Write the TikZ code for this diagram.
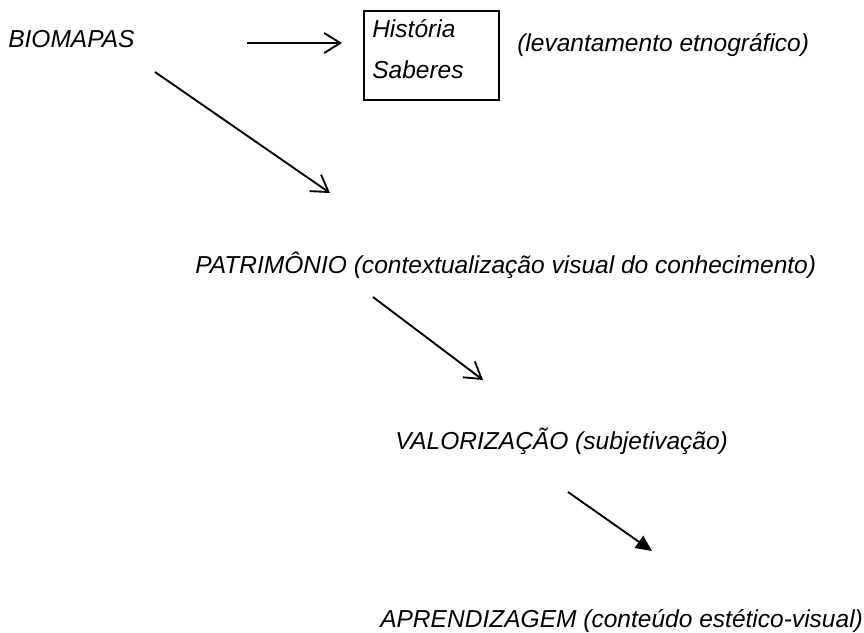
\documentclass[tikz,border=0pt]{standalone}
\usepackage{fontspec}
\setmainfont{Liberation Sans}
\usetikzlibrary{arrows.meta}
\begin{document}
\begin{tikzpicture}[x=0.75pt, y=-0.75pt,
  stage/.style={font=\itshape\fontsize{18.4}{22}\selectfont, inner sep=0pt, anchor=base west},
  flow/.style={line width=1.4pt, -{Straight Barb[length=12pt, width=15pt]}},
  flowend/.style={line width=1.4pt, -{Triangle[length=12pt, width=11pt]}}]
% one unit = one pixel of the reference
\def\pxu{0.75pt}
\useasboundingbox (0,0) rectangle (864,632);
% Stages
\node[stage] (bio) at (8,47) {BIOMAPAS};
\node[draw, line width=1.5pt, anchor=north west, inner sep=0pt,
  minimum width=135*\pxu, minimum height=89*\pxu] (hist) at (363,10) {};
\node[stage] (histA) at (372,37) {História};
\node[stage] (histB) at (372,78) {Saberes};
\node[stage] (lev) at (517,51) {(levantamento etnográfico)};
\node[stage] (patr) at (195,273) {PATRIMÔNIO (contextualização visual do conhecimento)};
\node[stage] (valor) at (395,449) {VALORIZAÇÃO (subjetivação)};
\node[stage] (apren) at (380,627) {APRENDIZAGEM (conteúdo estético-visual)};
% Arrow ends
\coordinate (a1s) at (247,43);  \coordinate (a1e) at (342,43);
\coordinate (a2s) at (155,72);  \coordinate (a2e) at (330,193);
\coordinate (a3s) at (373,297); \coordinate (a3e) at (483,380);
\coordinate (a4s) at (568,492); \coordinate (a4e) at (652,551);
% Connectors
\draw[flow] (a1s) -- (a1e);
\draw[flow] (a2s) -- (a2e);
\draw[flow] (a3s) -- (a3e);
\draw[flowend] (a4s) -- (a4e);
\end{tikzpicture}
\end{document}
